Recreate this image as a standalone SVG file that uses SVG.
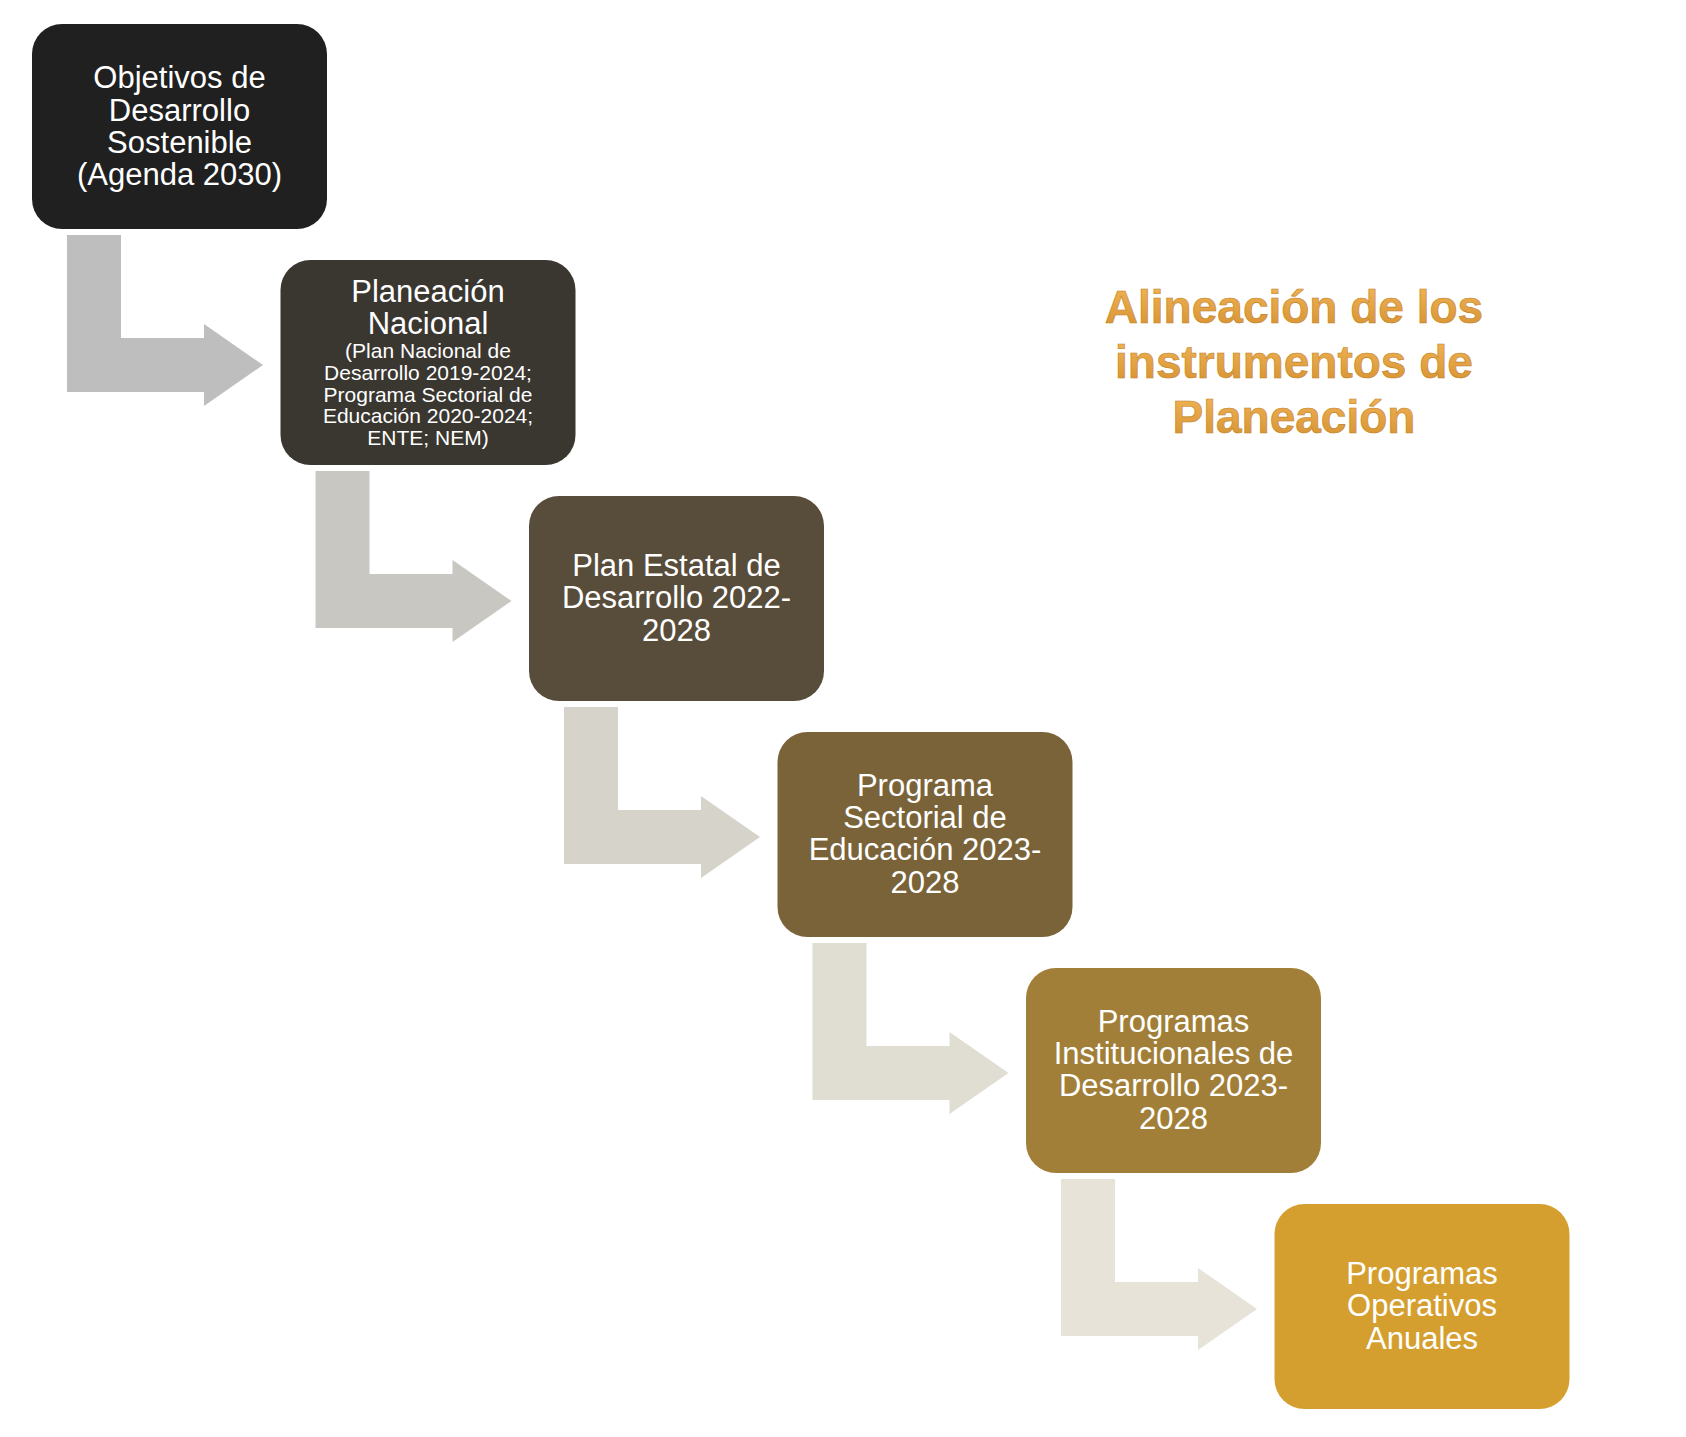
<svg xmlns="http://www.w3.org/2000/svg" width="1686" height="1437" viewBox="0 0 1686 1437">
<defs>
<style>
.box text{font-family:"Liberation Sans",Arial,sans-serif;fill:#ffffff;text-anchor:middle;}
.big{font-size:31px;}
.small{font-size:21px;}
.title{font-family:"Liberation Sans",Arial,sans-serif;font-size:46px;font-weight:bold;text-anchor:middle;fill:url(#tg);stroke:#c08228;stroke-width:0.6;}
</style>
<linearGradient id="tg" x1="0" y1="0" x2="0" y2="1">
<stop offset="0" stop-color="#f3b658"/>
<stop offset="1" stop-color="#d49030"/>
</linearGradient>
</defs>
<rect width="1686" height="1437" fill="#ffffff"/>
<g id="connectors">
<path fill="#bebebe" d="M67 235 H121 V338 H204 V324 L263 365 L204 406 V392 H67 Z"/>
<path fill="#c9c7c1" d="M315.5 471 H369.5 V574 H452.5 V560 L511.5 601 L452.5 642 V628 H315.5 Z"/>
<path fill="#d6d4ca" d="M564 707 H618 V810 H701 V796 L760 837 L701 878 V864 H564 Z"/>
<path fill="#e0ddd3" d="M812.5 943 H866.5 V1046 H949.5 V1032 L1008.5 1073 L949.5 1114 V1100 H812.5 Z"/>
<path fill="#e7e3d9" d="M1061 1179 H1115 V1282 H1198 V1268 L1257 1309 L1198 1350 V1336 H1061 Z"/>
</g>
<g id="node1" class="box">
<rect x="32" y="24" width="295" height="205" rx="30" fill="#202020"/>
<text class="big" x="179.5" y="88">Objetivos de</text>
<text class="big" x="179.5" y="120.5">Desarrollo</text>
<text class="big" x="179.5" y="153">Sostenible</text>
<text class="big" x="179.5" y="185">(Agenda 2030)</text>
</g>
<g id="node2" class="box">
<rect x="280.5" y="260" width="295" height="205" rx="30" fill="#3a3630"/>
<text class="big" x="428" y="302">Planeación</text>
<text class="big" x="428" y="334">Nacional</text>
<text class="small" x="428" y="358">(Plan Nacional de</text>
<text class="small" x="428" y="380">Desarrollo 2019-2024;</text>
<text class="small" x="428" y="402">Programa Sectorial de</text>
<text class="small" x="428" y="423">Educación 2020-2024;</text>
<text class="small" x="428" y="445">ENTE; NEM)</text>
</g>
<g id="node3" class="box">
<rect x="529" y="496" width="295" height="205" rx="30" fill="#584c3a"/>
<text class="big" x="676.5" y="575.5">Plan Estatal de</text>
<text class="big" x="676.5" y="608">Desarrollo 2022-</text>
<text class="big" x="676.5" y="640.5">2028</text>
</g>
<g id="node4" class="box">
<rect x="777.5" y="732" width="295" height="205" rx="30" fill="#7a6339"/>
<text class="big" x="925" y="795.5">Programa</text>
<text class="big" x="925" y="828">Sectorial de</text>
<text class="big" x="925" y="860">Educación 2023-</text>
<text class="big" x="925" y="892.5">2028</text>
</g>
<g id="node5" class="box">
<rect x="1026" y="968" width="295" height="205" rx="30" fill="#a17f38"/>
<text class="big" x="1173.5" y="1031.5">Programas</text>
<text class="big" x="1173.5" y="1064">Institucionales de</text>
<text class="big" x="1173.5" y="1096">Desarrollo 2023-</text>
<text class="big" x="1173.5" y="1128.5">2028</text>
</g>
<g id="node6" class="box">
<rect x="1274.5" y="1204" width="295" height="205" rx="30" fill="#d59f2f"/>
<text class="big" x="1422" y="1283.5">Programas</text>
<text class="big" x="1422" y="1316">Operativos</text>
<text class="big" x="1422" y="1348.5">Anuales</text>
</g>
<g id="title">
<text class="title" x="1294" y="323">Alineación de los</text>
<text class="title" x="1294" y="378">instrumentos de</text>
<text class="title" x="1294" y="433">Planeación</text>
</g>
</svg>
